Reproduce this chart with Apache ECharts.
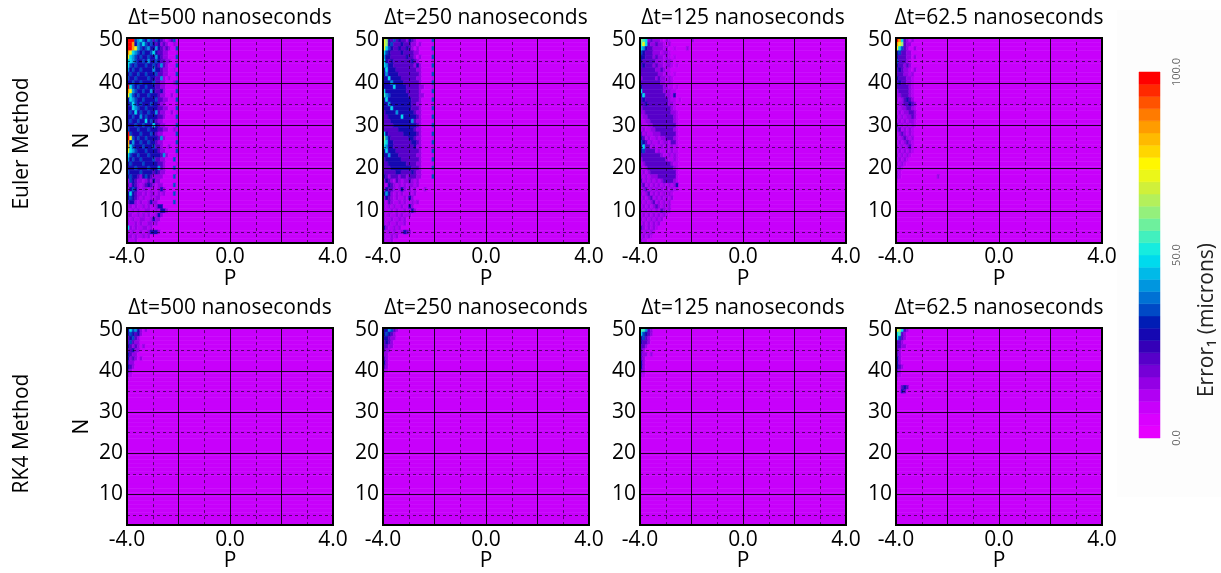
<!DOCTYPE html>
<html><head><meta charset="utf-8">
<script src="https://cdn.jsdelivr.net/npm/echarts@6/dist/echarts.min.js"></script>
<style>html,body{margin:0;padding:0;background:#fff}#c{width:1221px;height:573px}</style>
</head><body><div id="c"></div>
<script>
// ---------------- data ----------------
const TITLES = ['Δt=500 nanoseconds', 'Δt=250 nanoseconds', 'Δt=125 nanoseconds', 'Δt=62.5 nanoseconds'];
const METHODS = ['Euler Method', 'RK4 Method'];
const P_TICKS = [-4, 0, 4];
const N_TICKS = [10, 20, 30, 40];
const N_LABELS = [10, 20, 30, 40, 50];
const N_MINOR = [5, 15, 25, 35, 45];
const P_MAJOR = [-2, 0, 2];
const P_MINOR = [-3, -1, 1, 3];
const CBAR_TICKS = [0, 50, 100];
// cell centres along P (step 0.1) and N (step 1)
const P_COLS = [-3.95,-3.85,-3.75,-3.65,-3.55,-3.45,-3.35,-3.25,-3.15,-3.05,
  -2.95,-2.85,-2.75,-2.65,-2.55,-2.45,-2.35,-2.25,-2.15,-2.05,
  -1.95,-1.85,-1.75,-1.65,-1.55,-1.45,-1.35,-1.25,-1.15,-1.05,
  -0.95,-0.85,-0.75,-0.65,-0.55,-0.45,-0.35,-0.25,-0.15,-0.05,
  0.05,0.15,0.25,0.35,0.45,0.55,0.65,0.75,0.85,0.95,
  1.05,1.15,1.25,1.35,1.45,1.55,1.65,1.75,1.85,1.95,
  2.05,2.15,2.25,2.35,2.45,2.55,2.65,2.75,2.85,2.95,
  3.05,3.15,3.25,3.35,3.45,3.55,3.65,3.75,3.85,3.95];
const N_ROWS = [50,49,48,47,46,45,44,43,42,41,40,39,38,37,36,35,34,33,32,31,30,29,28,27,26,25,24,23,22,21,20,19,18,17,16,15,14,13,12,11,10,9,8,7,6,5,4,3];
// error level codes (microns)
const LEVEL_CODES  = ['.', 'q', 'p', 'v', 'b', 'B', 'm', 'c', 'a', 'g', 'y', 'o', 'r'];
const LEVEL_VALUES = [8, 11, 15, 21, 29, 35, 41, 49, 56, 63, 73, 85, 98];

// rows from N=50 (first) down to N=3; columns from P=-3.95; missing cells = '.'
const EULER_500 = [
"rrrBmcBbmBvBbvp.pvB","rrobmBcBbBbvbpvp..pq","rroymBbBmbbmbvpvp..B","oycmBbBbbBcbvvpp...q",
"ycmBbBbbBbbmbvpp...B","ccmBbbBbmbbBbvvpp..q","cBbBbbbBbbBbvmvp...B","mbBbbBbbbbmbbvpp..q",
"bBbbBbbBbbbBvvpp...B","BbbBbbbbBbbvvmp.p..q","bbBbbBbbbbBvvpp...pB","rcBbBbbBbbbvvpp....q",
"oymBbbBbbmbvvbp....B","ycBbBbbbBbbbvpp..p.q","bcmBbbBbbbbBvvpp...B","bBcBbBbbbBbbvpp....q",
"bbcmBbbBbbbbvvpp...B","bBbcbBbbBbbmvpp..p.q","bbBbbmbBbbbbvvp....B","bBbbBbbcbBbvpp.....q",
"bbbBbbBbbbcbvpp....B","BbbbBbbbBbbbvvpp..pq","rBbbbBbbbBbvpp.....B","ryBbBbbBbbbbvmp....q",
"obmbbBbbBbbvpp.....B","ocBbbbBbbbBvvp..p..q","ycmBbbbBbbbbvpp....B","cBbbBbbbBbbbbvmp...q",
"mbBbbBbbbbBvvpp...B","bBbbbbBbbbbbvvp....q","bbbBbbbbBbbbmvp...B","BbbbbBbbbbvbvpp....q",
"bBbbvpbBbvpppp....B","pBbvppqpvpbpp","vpbvpqpvbvpqpp....B","pbBbpqppqpqqpbp",
"bcbvppqpqppqpqp...B","bBbvpqpqqpqpp","vbbpqpqqpbpp......B","ppqpqqpqpqqpbb",
"pqpqpqqppqqpqbbp","ppqqpqpqpqqpbp","pqpqqppqqpbpp","pqqpqpqqppqp",
"cpqpqqppqp","pqpqqpqqpbbbp","ppqpqqpqp","pqqp"];
const EULER_250 = [
"ygbvBvbvvpbvp......B","ygbBvvvbvvvpp.p....q","ycBbvvbvvbvp.p.....B","cBbvvvvbvvvvpp.....q",
"mbbvvvvvvbvvp.p....B","cbvbvvvvvvvbvp.....q","cmbbvvvvvvvvpbp....B","bcbbbvvvvvvvvpp....q",
"bmbbbbvvvvvvvvp....B","bbcbbbbvvvvvvpp....q","bbbmbbbbvvvvvvp....B","bbbbcbbbbvvvvvpp...q",
"cbbbbbbbbvvvvvp....B","amBbbbbbbbvvvvpp...q","bcbbbbbbbbbvvvp....B","bbmbbbbbbbbvvpp....q",
"bbbcbbbbbbbvvvp....B","vbbbbmbbbbbbvpp....q","vvbbbbbcbbbbbvp....B","vvvbbbbbbbbmvpp....q",
"vvvvbbbbbbbbbvp....B","vvvvvvbbbbbbvpp....q","cbvvvvvvbbbbbvp....B","gmbvvvvvvvbbvpp....q",
"acbbvvvvvvvbbvp....B","cmbbvvvvvvvvbpp....q","bcbbbvvvvvvvvvp....B","bbmbbbvvvvvvvpp....q",
"vbbbbbbvvvvvvvp....B","vvbbbbbbbvvvvpp....q","vvvbbbbbbbbvvvp....B","vvvvvbbvvvvbvpp....q",
"bvpvvvpvvpvvvpp....B","pbvpqvpqppvpqp","pqbvpqpqpqppqp","pbvvpqpbpqpqp...p",
"bmbpqpqpqqpqp","pbvpqpqqpqbp","pqvpqqpqpqqpqp","pqpqpqqpqqbp",
"pqqpqpqqpqqbp","pqpqqpqpqqp","pqqpqqpqp","pqpqqpqqp",
"bpqqpqp","pqpqpqqpbvp","pqqpqp","pqqp"];
const EULER_125 = [
"gacpvpppq.pq........p","aycvppvppq.p","cmbvvppppqp..q....p","Bbvvvpppqppq",
"bbvvvpvppqpq.q","bvvvvvpppqppq","vbvvvpvppqppq.q","vvvvvvppvpqq",
"vvvvvvvppqpq.q","pvvvvvpvppqpq","vvvvvvvvppqpq","bvvvvvvvvppqq.q",
"cvvvvvvvvpppqq","bcvvvvvvvvppqb","vbvvvvvvvvvpqq.q","vvbvvvvvvvvppq",
"pvvvvvvvvvvvpq","ppvvvvvvvvvvppq","qppvvvvvvvvvvpq","qqppvvvvvvvvvpq",
"pqqppvvvvvvvvvq","qpqqppvvvvvvvpq","vqpqqpppvvvvvvq","bvqpqqpqppvvvpq",
"Bbvqpqqpqppqvvq","bcvvqpqqpqpqpqq","bBvvvvqpqqpqpqq","vvvvvvvvpqqpqpq",
"pvvvvvvvvvpqqpq","qpvvvvvvvvvvpqq","pqpvvvvvvvvvvpq","qpqpvvvvvvvvvvq",
"pqpqpppvvvvvvvq","vqpqpqpqpvvvvpq","pvqpqpqpqpqpqpb","qpvqpqpqpqpqpqq",
"pqpvqpqpqpqpq","qpqpvqpqpqpqp","pqpqpvqpqpqp","qpqpqpvpqpqp",
"pqpqpqpqvpqp","qpqpqpqpqpq","pqpqpqpqp","qpqpqpqp",
"vpqpqpq","pqpqpq","qpqpq","pqq"];
const EULER_62 = [
"rocvp.p","oygvpp","ycBvp..p","bBvvpp","bvvvpp.p","Bvvvpq","bvvpvp","vbvppq.p",
"vvvppqp","bvvvppq","vbvvppq","vvvvvpq","pvvvvpq","ppvvvpq","pqpvbvp","qppvvbvp",
"pqppvvpq","qpqppvvp","pqpqppvp","qpqpqppq","vqpqpqpq","pvqpqpq","qpvpqpq","pqpvpqp",
"qpqpvpq","pqpqpvq","qpqpqpq","pqpqpq","qpqpq","pqpq","qpq","pq",
"pq..............p","q"];
const RK4_500 = [
"bcBmbp.p","bBbvbp","vbBvp","vBvpp","bvpvp.p","vvbpp","bvpp","bpvp.p",
"vpp","bvp","vp","pq","q"];
const RK4_250 = [
"bbmBvp","bBbvp","bbvpp","vbvp","vvpp","vpp","pp","vp","bp","vp","pq","q"];
const RK4_125 = [
"aamvp","cBbvp","bBvp","bvvp","vvp","vp","vpp.p","vp","bp","bp","vp","pq","q"];
const RK4_62 = [
"ygcvp","cavp","cBvp","vvp","vvpp","vp","vp","bp","bp","bvp","vp","pq","q",".","..vbv","..bv"];

const PANELS = [EULER_500, EULER_250, EULER_125, EULER_62, RK4_500, RK4_250, RK4_125, RK4_62];
const COLOR_STOPS = ['#e600ff','#d400ff','#b400f4','#8a00e0','#5e00cc','#2c00b4','#0010b0','#0050c8','#0088dc','#00bce8','#00eaf0','#40f0c0','#80f090','#b0f060','#d8f030','#ffff00','#ffd000','#ffa800','#ff7800','#ff3c00','#ff0000'];
const COLOR_LEVELS = 30;

// ---------------- layout ----------------
const FONT = '"Open Sans", sans-serif';
const PANEL_LEFT = [127, 383, 640, 896];
const PANEL_TOP = [38, 328];
const PANEL_W = 206, PANEL_H = 205;
const CELL_W = 0.1, CELL_H = 1;

function buildCells(rows) {
  const out = [];
  N_ROWS.forEach((n, i) => {
    const row = rows[i] || '';
    const code = j => row[j] || '.';
    let start = 0;
    for (let j = 1; j <= P_COLS.length; j++) {
      if (j === P_COLS.length || code(j) !== code(start)) {
        out.push([P_COLS[start] - CELL_W / 2, P_COLS[j - 1] + CELL_W / 2, n,
                  LEVEL_VALUES[LEVEL_CODES.indexOf(code(start))]]);
        start = j;
      }
    }
  });
  return out;
}

function renderCell(params, api) {
  const a = api.coord([api.value(0), api.value(2) + CELL_H / 2]);
  const b = api.coord([api.value(1), api.value(2) - CELL_H / 2]);
  const c = api.visual('color');
  return {type: 'rect', shape: {x: a[0], y: a[1], width: b[0] - a[0], height: b[1] - a[1]},
          style: {fill: c, stroke: c, lineWidth: 0.6}};
}
function renderBand(params, api) {
  const a = api.coord([api.value(0), api.value(4)]);
  const b = api.coord([api.value(1), api.value(2)]);
  const c = api.visual('color');
  return {type: 'rect', shape: {x: a[0], y: a[1], width: b[0] - a[0], height: b[1] - a[1]},
          style: {fill: c, stroke: c, lineWidth: 0.5}};
}

const SOLID = {type: 'solid', color: 'rgba(0,0,0,0.85)', width: 1};
const DOT = {type: [3, 3], color: 'rgba(0,0,0,0.55)', width: 1};
const GRID_LINES = [].concat(
  N_TICKS.map(v => ({yAxis: v, lineStyle: SOLID})),
  N_MINOR.map(v => ({yAxis: v, lineStyle: DOT})),
  P_MAJOR.map(v => ({xAxis: v, lineStyle: SOLID})),
  P_MINOR.map(v => ({xAxis: v, lineStyle: DOT})));

const grids = [], xAxes = [], yAxes = [], series = [];
const graphics = [{type: 'rect', shape: {x: 1117, y: 10, width: 104, height: 487}, z: -10,
  style: {fill: '#fdfdfd'}, silent: true}];
const txt = {fontSize: 21, fontFamily: FONT, color: '#000'};
for (let r = 0; r < 2; r++) {
  for (let c = 0; c < 4; c++) {
    const k = r * 4 + c;
    grids.push({left: PANEL_LEFT[c], top: PANEL_TOP[r], width: PANEL_W, height: PANEL_H,
      show: true, z: 10, borderColor: '#000', borderWidth: 2, backgroundColor: 'rgba(0,0,0,0)'});
    xAxes.push({gridIndex: k, type: 'value', min: -4, max: 4,
      axisLine: {show: false}, axisTick: {show: false, customValues: P_TICKS}, splitLine: {show: false},
      axisLabel: Object.assign({customValues: P_TICKS, formatter: v => v.toFixed(1), margin: 4}, txt),
      name: 'P', nameLocation: 'middle', nameGap: 21, nameTextStyle: txt});
    yAxes.push({gridIndex: k, type: 'value', min: 2.5, max: 50.5,
      axisLine: {show: false}, axisTick: {show: false, customValues: N_LABELS}, splitLine: {show: false},
      axisLabel: Object.assign({customValues: N_LABELS, margin: 4}, txt),
      name: c === 0 ? 'N' : '', nameLocation: 'middle', nameGap: 34, nameTextStyle: txt});
    series.push({type: 'custom', xAxisIndex: k, yAxisIndex: k, renderItem: renderCell,
      dimensions: ['p0', 'p1', 'n', 'err'], encode: {x: [0, 1], y: 2},
      data: buildCells(PANELS[k]), silent: true,
      markLine: {silent: true, symbol: ['none', 'none'], label: {show: false}, animation: false, data: GRID_LINES}});
    graphics.push({type: 'text', x: PANEL_LEFT[c] + PANEL_W / 2, y: PANEL_TOP[r] - 20,
      style: {text: TITLES[c], font: '21px ' + FONT, fill: '#000', align: 'center', verticalAlign: 'middle',
              textAlign: 'center', textVerticalAlign: 'middle'}});
  }
  graphics.push({type: 'text', x: 22, y: PANEL_TOP[r] + PANEL_H / 2 + 3, rotation: Math.PI / 2,
    style: {text: METHODS[r], font: '21px ' + FONT, fill: '#000', align: 'center', verticalAlign: 'middle',
            textAlign: 'center', textVerticalAlign: 'middle'}});
}
// colour bar
const bands = [];
for (let i = 0; i < COLOR_LEVELS; i++) {
  const lo = 100 * i / COLOR_LEVELS, hi = 100 * (i + 1) / COLOR_LEVELS;
  bands.push([0, 1, lo, (lo + hi) / 2, hi]);
}
grids.push({left: 1139, top: 72, width: 21, height: 366, show: false});
xAxes.push({gridIndex: 8, type: 'value', min: 0, max: 1, show: false});
yAxes.push({gridIndex: 8, type: 'value', min: 0, max: 100, position: 'right',
  axisLine: {show: false}, axisTick: {show: false, customValues: CBAR_TICKS}, splitLine: {show: false},
  axisLabel: {customValues: CBAR_TICKS, formatter: v => v.toFixed(1), rotate: 90, margin: 11,
              fontSize: 11, fontFamily: FONT, color: '#666'}});
series.push({type: 'custom', xAxisIndex: 8, yAxisIndex: 8, renderItem: renderBand,
  dimensions: ['x0', 'x1', 'lo', 'err', 'hi'], encode: {x: [0, 1], y: [2, 4]}, data: bands, silent: true});
graphics.push({type: 'text', x: 1207, y: 320, rotation: Math.PI / 2,
  style: {text: 'Error₁ (microns)', font: '21px ' + FONT, fill: '#222', align: 'center', verticalAlign: 'middle',
          textAlign: 'center', textVerticalAlign: 'middle'}});

const chart = echarts.init(document.getElementById('c'), null, {renderer: 'canvas'});
chart.setOption({
  animation: false,
  backgroundColor: '#fff',
  grid: grids, xAxis: xAxes, yAxis: yAxes, series: series,
  visualMap: {type: 'piecewise', show: false, min: 0, max: 100, splitNumber: COLOR_LEVELS, dimension: 3,
              seriesIndex: [0, 1, 2, 3, 4, 5, 6, 7, 8], inRange: {color: COLOR_STOPS}},
  graphic: graphics
});
</script></body></html>
